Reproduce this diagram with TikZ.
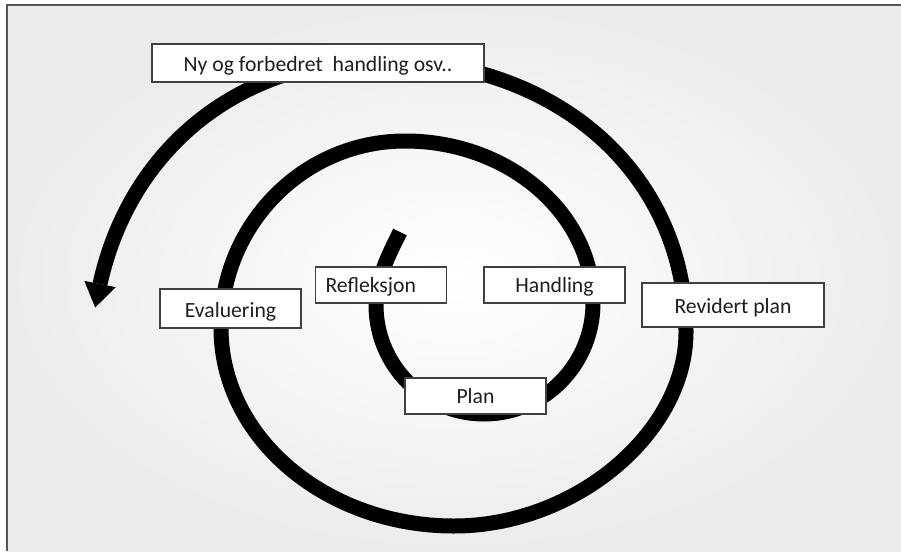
\documentclass[tikz,border=0pt]{standalone}
\usepackage{fontspec}
\setmainfont{Carlito}
\definecolor{txt}{HTML}{1E1E1E}
\definecolor{boxline}{HTML}{404040}
\definecolor{frameline}{HTML}{555555}
\definecolor{bggray}{HTML}{ECECEC}
\begin{document}
\begin{tikzpicture}[x=1pt,y=-1pt,
  lbl/.style={draw=boxline, line width=1.3pt, fill=white, text=txt,
    font=\fontsize{21.7}{26}\selectfont, inner xsep=0pt, inner ysep=0pt,
    text height=16pt, text depth=2pt, anchor=center},
  spiral/.style={line width=15pt, black, line join=round}]
\useasboundingbox (0,0) rectangle (901,551);
% background
\fill[white] (0,0) rectangle (901,551);
\shade[inner color=white, outer color=bggray] (7,5) rectangle (901,551);
\draw[frameline, line width=2pt] (7,551) -- (7,5) -- (901,5);
% spiral key points
\coordinate (S)  at (400,232);
\coordinate (L1) at (376,305);
\coordinate (B1) at (484,414);
\coordinate (R1) at (593,303);
\coordinate (T2) at (405,141);
\coordinate (L2) at (221,328);
\coordinate (B2) at (454,526);
\coordinate (R2) at (686,332);
\coordinate (T3) at (380,60);
\coordinate (E)  at (100,284);
\draw[spiral] (S)
  .. controls (388.8,254.4) and (376,280) .. (L1)
  .. controls (376,365.2) and (424.4,414) .. (B1)
  .. controls (544.2,414) and (593,364.3) .. (R1)
  .. controls (593,213.6) and (508.8,141) .. (T2)
  .. controls (303.4,141) and (221,224.8) .. (L2)
  .. controls (221,437.3) and (325.4,526) .. (B2)
  .. controls (575,526) and (686,433) .. (R2)
  .. controls (686,174.2) and (557.5,60) .. (T3)
  .. controls (240,60) and (130,148) .. (E);
% arrow head
\coordinate (tipA) at (95.2,307.5);
\coordinate (wingL) at (84.3,280.8);
\coordinate (wingR) at (115.7,287.2);
\fill[black] (wingL) -- (tipA) -- (wingR) -- cycle;
% labels
\node[lbl, minimum width=332pt, minimum height=38pt, text height=18pt, text depth=2pt] (ny) at (318,63) {Ny og forbedret\ \ handling osv..};
\node[lbl, minimum width=141pt, minimum height=39pt, text height=19pt, text depth=2pt] (eval) at (230.5,308.5) {Evaluering};
\node[lbl, text width=131pt, align=left, minimum height=36pt] (refl) at (381,285) {\hspace*{10pt}Refleksjon};
\node[lbl, minimum width=141pt, minimum height=36pt] (hand) at (554.5,285) {Handling};
\node[lbl, minimum width=182pt, minimum height=44pt, text height=18pt, text depth=2pt] (rev) at (733,305) {Revidert plan};
\node[lbl, minimum width=141pt, minimum height=36pt] (plan) at (475.5,396) {Plan};
\end{tikzpicture}
\end{document}
